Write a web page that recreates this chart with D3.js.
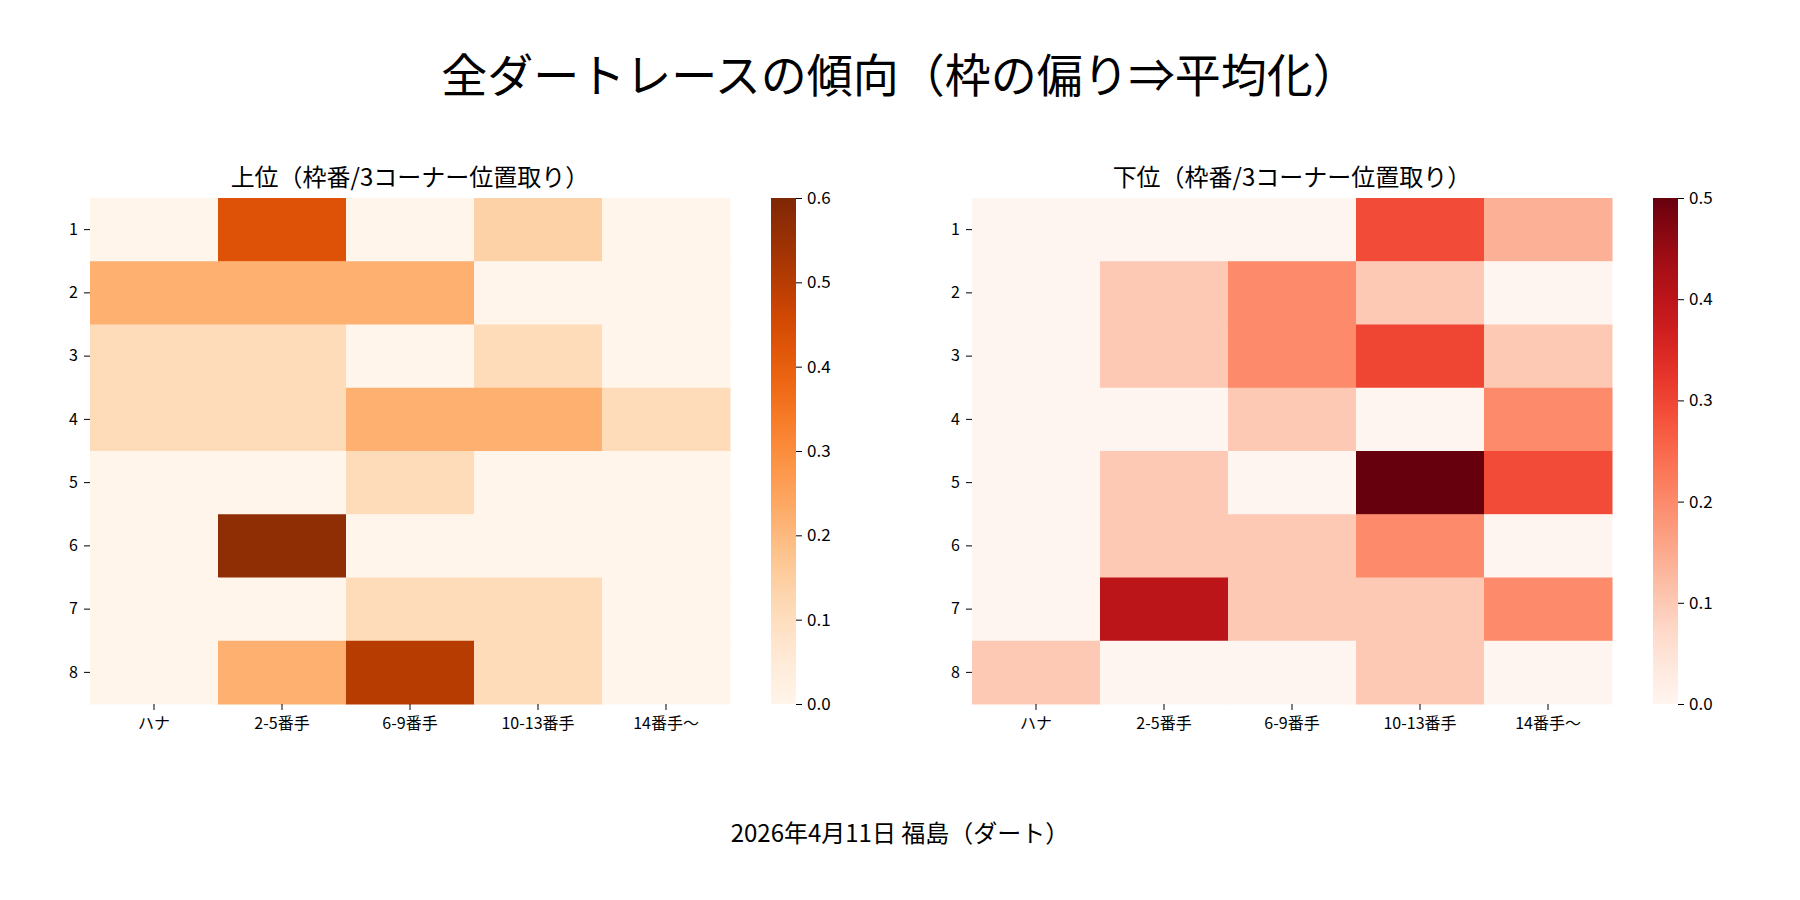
<!DOCTYPE html>
<html><head><meta charset="utf-8">
<script src="https://cdn.jsdelivr.net/npm/d3@7"></script>
<style>body{margin:0;background:#fff}text{font-family:"Noto Sans CJK JP","Noto Sans",sans-serif;fill:#000}</style>
</head><body><svg id="c" width="1800" height="900"></svg>
<script>
var cols = ["ハナ","2-5番手","6-9番手","10-13番手","14番手〜"];
var rows = ["1","2","3","4","5","6","7","8"];
var upper = [
  [0,0.43,0,0.14,0],
  [0.22,0.22,0.22,0,0],
  [0.11,0.11,0,0.11,0],
  [0.11,0.11,0.22,0.22,0.11],
  [0,0,0.11,0,0],
  [0,0.57,0,0,0],
  [0,0,0.11,0.11,0],
  [0,0.22,0.5,0.11,0]
];
var lower = [
  [0,0,0,0.29,0.14],
  [0,0.1,0.2,0.1,0],
  [0,0.1,0.2,0.3,0.1],
  [0,0,0.1,0,0.2],
  [0,0.1,0,0.5,0.29],
  [0,0.1,0.1,0.2,0],
  [0,0.4,0.1,0.1,0.2],
  [0.1,0,0,0.1,0]
];
var svg = d3.select('#c');
svg.append('text').attr('x',900).attr('y',92).attr('text-anchor','middle')
   .attr('font-size',46).text('全ダートレースの傾向（枠の偏り⇒平均化）');
svg.append('text').attr('x',900).attr('y',842).attr('text-anchor','middle')
   .attr('font-size',24).text('2026年4月11日 福島（ダート）');

function panel(x0, data, title, interp, vmax, ticks){
  var w = 640, h = 506, y0 = 198;
  var xS = d3.scaleBand().domain(cols).range([x0, x0+w]);
  var yS = d3.scaleBand().domain(rows).range([y0, y0+h]);
  var col = d3.scaleSequential(interp).domain([0, vmax]);
  var g = svg.append('g');
  data.forEach(function(r,i){
    r.forEach(function(v,j){
      g.append('rect').attr('x',xS(cols[j])).attr('y',yS(rows[i]))
       .attr('width',xS.bandwidth()+0.5).attr('height',yS.bandwidth()+0.5)
       .attr('fill',col(v));
    });
  });
  g.append('text').attr('x',x0+w/2).attr('y',y0-12).attr('text-anchor','middle')
   .attr('font-size',24).text(title);
  var xa = svg.append('g').attr('transform','translate(0,'+(y0+h)+')')
    .call(d3.axisBottom(xS).tickSize(6).tickPadding(8));
  var ya = svg.append('g').attr('transform','translate('+x0+',0)')
    .call(d3.axisLeft(yS).tickSize(6).tickPadding(6));
  [xa,ya].forEach(function(a){
    a.select('.domain').remove();
    a.selectAll('text').attr('font-size',16).style('font-family','"Noto Sans CJK JP",sans-serif');
  });
  // colorbar
  var cx = x0+w+41, cw = 25;
  var cS = d3.scaleLinear().domain([0,vmax]).range([y0+h, y0]);
  var id = 'gr'+x0;
  var gr = svg.append('defs').append('linearGradient').attr('id',id)
    .attr('x1',0).attr('y1',1).attr('x2',0).attr('y2',0);
  d3.range(0,1.001,0.05).forEach(function(t){
    gr.append('stop').attr('offset',t).attr('stop-color',col(t*vmax));
  });
  svg.append('rect').attr('x',cx).attr('y',y0).attr('width',cw).attr('height',h)
    .attr('fill','url(#'+id+')');
  var ca = svg.append('g').attr('transform','translate('+(cx+cw)+',0)')
    .call(d3.axisRight(cS).tickValues(ticks).tickFormat(d3.format('.1f')).tickSize(6).tickPadding(5));
  ca.select('.domain').remove();
  ca.selectAll('text').attr('font-size',17);
}
panel(90, upper, '上位（枠番/3コーナー位置取り）', d3.interpolateOranges, 0.6, [0,0.1,0.2,0.3,0.4,0.5,0.6]);
panel(972, lower, '下位（枠番/3コーナー位置取り）', d3.interpolateReds, 0.5, [0,0.1,0.2,0.3,0.4,0.5]);
</script></body></html>
